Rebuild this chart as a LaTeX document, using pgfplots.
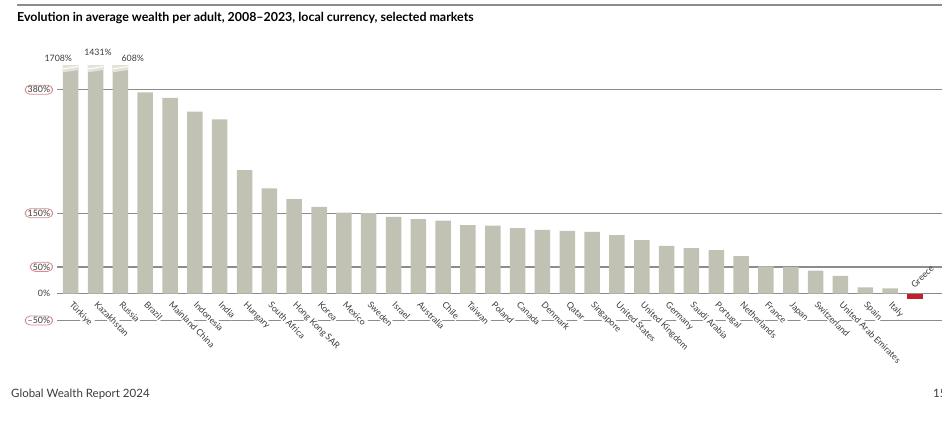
\documentclass[border=0pt]{standalone}
\usepackage{pgfplots}
\pgfplotsset{compat=1.18}
\usepackage{fontspec}
\setmainfont{Lato}
\definecolor{barc}{HTML}{C2C2B4}
\definecolor{capc}{HTML}{E2E2D8}
\definecolor{grc}{HTML}{C0202C}
\definecolor{gridc}{HTML}{8C8C8C}
\definecolor{pill}{HTML}{D98A8E}
\definecolor{txt}{HTML}{3A3A3A}
\begin{document}
\begin{tikzpicture}
\useasboundingbox (0,0) rectangle (942bp,422bp);
\draw[gridc, line width=1.5bp] (17bp,417bp) -- (942bp,417bp);
\node[anchor=base west, inner sep=0pt, font=\bfseries\fontsize{12.4bp}{14bp}\selectfont] at (17bp,400bp) {Evolution in average wealth per adult, 2008–2023, local currency, selected markets};
\node[anchor=base west, inner sep=0pt, text=txt, font=\fontsize{11.5bp}{13bp}\selectfont] at (11bp,25bp) {Global Wealth Report 2024};
\node[anchor=base west, inner sep=0pt, text=txt, font=\fontsize{11.5bp}{13bp}\selectfont] at (933bp,25bp) {15};
\begin{axis}[
  at={(57bp,96.08bp)}, anchor=south west,
  scale only axis, width=885bp, height=268.4bp,
  xmin=-0.552, xmax=35.09, ymin=-60, ymax=440,
  axis line style={draw=none},
  major tick length=0pt,
  ybar, bar width=15.5bp, bar shift=0pt,
  xtick={0,...,33},
  xticklabels={Türkiye,Kazakhstan,Russia,Brazil,Mainland China,Indonesia,India,Hungary,South Africa,Hong Kong SAR,Korea,Mexico,Sweden,Israel,Australia,Chile,Taiwan,Poland,Canada,Denmark,Qatar,Singapore,United States,United Kingdom,Germany,Saudi Arabia,Portugal,Netherlands,France,Japan,Switzerland,United Arab Emirates,Spain,Italy},
  xticklabel style={yshift=26.5bp, xshift=3bp, rotate=-45, anchor=north west, font=\fontsize{8.8bp}{10bp}\selectfont, text=txt, fill=white, inner sep=1bp},
  ytick={-50,50,150,380},
  yticklabels={–50\%,50\%,150\%,380\%},
  yticklabel style={draw=pill, line width=0.8bp, rounded corners=4.8bp, inner xsep=2.5bp, inner ysep=1.3bp, font=\fontsize{8.8bp}{10bp}\selectfont, text=txt, anchor=east, xshift=-4bp},
  extra y ticks={0}, extra y tick labels={0\%},
  extra y tick style={yticklabel style={draw=none}},
  ymajorgrids, major grid style={gridc, line width=1.3bp},
  clip=false,
]
\addplot[fill=barc, draw=none] coordinates {
(0,426) (1,426) (2,426) (3,375) (4,365) (5,339) (6,325) (7,230) (8,196) (9,176)
(10,162) (11,151) (12,150) (13,143) (14,139) (15,136) (16,128) (17,127) (18,122) (19,119)
(20,117) (21,115) (22,109) (23,100) (24,89) (25,85) (26,81) (27,70) (28,51) (29,50)
(30,43) (31,33) (32,12) (33,10)};
\addplot[fill=grc, draw=none] coordinates {(34,-10.5)};
\fill[capc] (axis cs:-0.312,412.4) -- (axis cs:0.312,416.7) -- (axis cs:0.312,426) -- (axis cs:-0.312,426) -- cycle;
\draw[white, line width=1bp] (axis cs:-0.312,418.6) -- (axis cs:0.312,423.3);
\fill[capc] (axis cs:0.688,412.4) -- (axis cs:1.312,416.7) -- (axis cs:1.312,426) -- (axis cs:0.688,426) -- cycle;
\draw[white, line width=1bp] (axis cs:0.688,418.6) -- (axis cs:1.312,423.3);
\fill[capc] (axis cs:1.688,412.4) -- (axis cs:2.312,416.7) -- (axis cs:2.312,426) -- (axis cs:1.688,426) -- cycle;
\draw[white, line width=1bp] (axis cs:1.688,418.6) -- (axis cs:2.312,423.3);
\node[font=\fontsize{8.8bp}{10bp}\selectfont, text=txt] at (axis cs:-0.5,438) {1708\%};
\node[font=\fontsize{8.8bp}{10bp}\selectfont, text=txt] at (axis cs:1.1,450) {1431\%};
\node[font=\fontsize{8.8bp}{10bp}\selectfont, text=txt] at (axis cs:2.5,438) {608\%};
\node[rotate=45, anchor=south west, inner sep=0pt, font=\fontsize{8.8bp}{10bp}\selectfont, text=txt] at (axis cs:34.0,9) {Greece};
\end{axis}
\end{tikzpicture}
\end{document}
